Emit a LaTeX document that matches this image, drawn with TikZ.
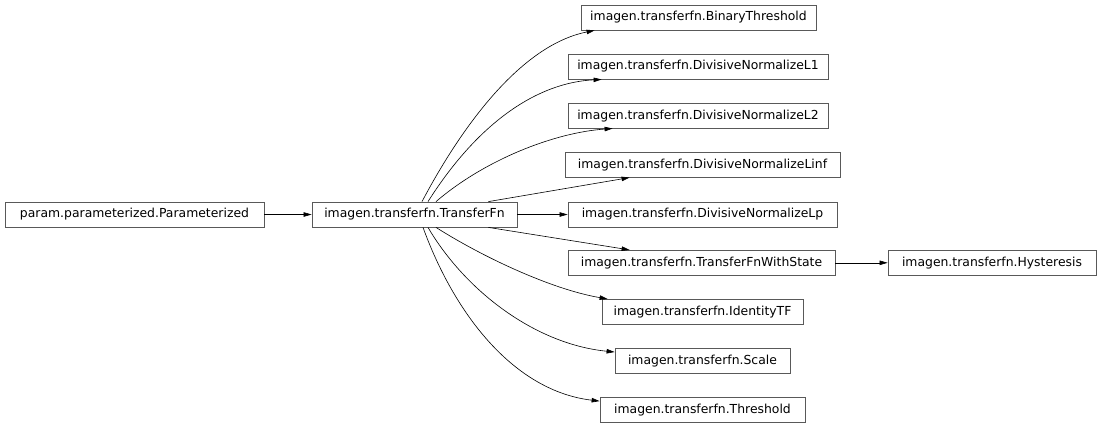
\documentclass[tikz,border=0pt]{standalone}
\usepackage{fontspec}
\setmainfont{DejaVu Sans}
\usetikzlibrary{arrows.meta}
\begin{document}
\begin{tikzpicture}[x=1pt,y=-1pt,
  cls/.style={draw=black!65,line width=0.8pt,fill=white,inner sep=0pt,minimum height=25pt,font=\fontsize{12.4}{14}\selectfont},
  edge/.style={draw=black,line width=0.6pt,-{Triangle[length=8pt,width=4.5pt]}}]
\useasboundingbox (0,0) rectangle (1101,429);
\def\dy{49.06}
\node[cls,minimum width=259pt] (p) at (134.5,214.5) {param.parameterized.Parameterized};
\node[cls,minimum width=205pt] (tf) at (414.5,214.5) {imagen.transferfn.TransferFn};
\node[cls,minimum width=235pt] (bt) at (698.5,17.5) {imagen.transferfn.BinaryThreshold};
\node[cls,minimum width=260pt] (l1) at (698,{17.5+\dy}) {imagen.transferfn.DivisiveNormalizeL1};
\node[cls,minimum width=260pt] (l2) at (698,{17.5+2*\dy}) {imagen.transferfn.DivisiveNormalizeL2};
\node[cls,minimum width=275pt] (linf) at (702.5,{17.5+3*\dy}) {imagen.transferfn.DivisiveNormalizeLinf};
\node[cls,minimum width=269pt] (lp) at (702.5,214.5) {imagen.transferfn.DivisiveNormalizeLp};
\node[cls,minimum width=267pt] (tfws) at (701.5,{17.5+5*\dy}) {imagen.transferfn.TransferFnWithState};
\node[cls,minimum width=201pt] (id) at (702.5,{17.5+6*\dy}) {imagen.transferfn.IdentityTF};
\node[cls,minimum width=175pt] (sc) at (702.5,{17.5+7*\dy}) {imagen.transferfn.Scale};
\node[cls,minimum width=205pt] (th) at (702.5,410) {imagen.transferfn.Threshold};
\node[cls,minimum width=208pt] (hy) at (992,{17.5+5*\dy}) {imagen.transferfn.Hysteresis};

\draw[edge] (p) -- (tf);
\draw[edge] (tf) -- (lp);
\draw[edge] (tfws) -- (hy);
\draw[edge] ([xshift=7.5pt]tf.north) .. controls +(38,-72) and +(-75,15) .. ([xshift=14pt]bt.south west);
\draw[edge] ([xshift=13.5pt]tf.north) .. controls +(52,-82) and +(-62,3) .. ([xshift=34pt]l1.south west);
\draw[edge] ([xshift=21.5pt]tf.north) .. controls +(49,-42) and +(-58,4) .. ([xshift=45pt]l2.south west);
\draw[edge] ([xshift=-29pt]tf.north east) -- ([xshift=65pt]linf.south west);
\draw[edge] ([xshift=-29pt]tf.south east) -- ([xshift=62pt]tfws.north west);
\draw[edge] ([xshift=21.5pt]tf.south) .. controls +(44,28) and +(-58,-10) .. ([xshift=6pt]id.north west);
\draw[edge] ([xshift=13.5pt]tf.south) .. controls +(37,63) and +(-80,-8) .. ([yshift=-4pt]sc.north west);
\draw[edge] ([xshift=8.5pt]tf.south) .. controls +(32,88) and +(-85,-10) .. ([yshift=-4pt]th.north west);
\end{tikzpicture}
\end{document}
